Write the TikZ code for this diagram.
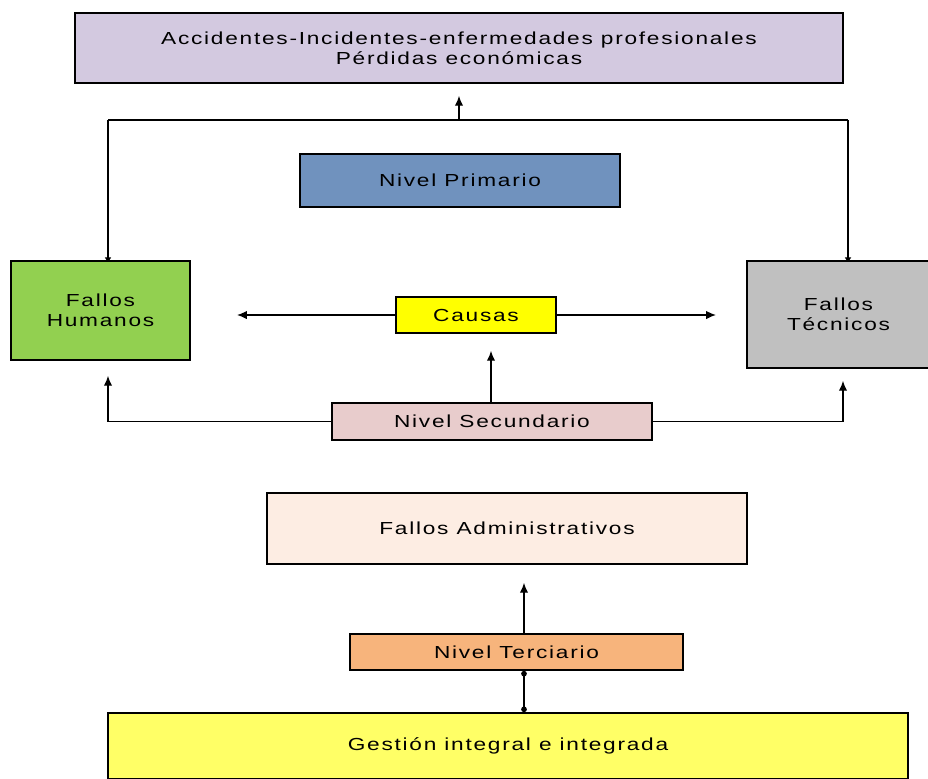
\documentclass[tikz,border=0pt]{standalone}
\usepackage{fontspec}
\newfontfamily\boxfont[FakeStretch=1.3,LetterSpace=10]{Liberation Sans}
\usetikzlibrary{calc,arrows.meta,backgrounds}
\definecolor{lila}{RGB}{211,201,224}
\definecolor{azul}{RGB}{112,146,190}
\definecolor{verde}{RGB}{146,208,80}
\definecolor{gris}{RGB}{192,192,192}
\definecolor{amarillo}{RGB}{255,255,0}
\definecolor{rosa}{RGB}{232,204,204}
\definecolor{crema}{RGB}{253,237,227}
\definecolor{naranja}{RGB}{247,180,124}
\definecolor{limon}{RGB}{255,255,102}
\tikzset{
	caja/.style={draw, line width=1.2pt, inner sep=0pt, align=center,
		font=\boxfont\fontsize{12.4}{14.5}\selectfont},
	flecha/.style={line width=1pt, -{Latex[length=7pt,width=6pt]}},
	linea/.style={line width=1pt}
}

\begin{document}
\begin{tikzpicture}[x=0.025cm, y=-0.025cm]
			%%%%% START %%%%%
			
			\useasboundingbox (0, 0) rectangle (928, 778);
			
			\node[caja, fill=lila, minimum width=19.2cm, minimum height=1.75cm] (acc) at (459, 48) {Accidentes-Incidentes-enfermedades profesionales\\Pérdidas económicas};
			\node[caja, fill=azul, minimum width=8cm, minimum height=1.325cm] (prim) at (460, 180.5) {Nivel Primario};
			
			\node[caja, fill=verde, minimum width=4.475cm, minimum height=2.475cm] (hum) at (100.5, 310.5) {Fallos\\Humanos};
			\node[caja, fill=gris, minimum width=4.575cm, minimum height=2.675cm] (tec) at (838.5, 314.5) {Fallos\\Técnicos};
			\node[caja, fill=amarillo, minimum width=4cm, minimum height=0.9cm] (cau) at (476, 315) {Causas};
			\node[caja, fill=rosa, minimum width=8cm, minimum height=0.925cm] (sec) at (492, 421.5) {Nivel Secundario};
			
			\node[caja, fill=crema, minimum width=12cm, minimum height=1.775cm] (adm) at (507, 528.5) {Fallos Administrativos};
			\node[caja, fill=naranja, minimum width=8.325cm, minimum height=0.9cm] (ter) at (516.5, 652) {Nivel Terciario};
			\node[caja, fill=limon, minimum width=20cm, minimum height=1.65cm] (ges) at (508, 746) {Gestión integral e integrada};
			
			\coordinate (jl) at (108, 120);
			\coordinate (jr) at (848, 120);
			\coordinate (cl) at (237, 315);
			\coordinate (cr) at (716, 315);
			\coordinate (sl) at (108, 421.5);
			\coordinate (sr) at (843, 421.5);
			\coordinate (tx) at (524, 600);
			
			% nivel primario
			\draw[linea] (jl) -- (jr);
			\draw[flecha, shorten >=0.3cm] (acc.south |- jl) -- (acc.south);
			\begin{scope}[on background layer]
				\draw[line width=1pt, -{Latex[length=4pt,width=5pt]}, shorten >=-2pt] (jl) -- (jl |- hum.north);
				\draw[line width=1pt, -{Latex[length=4pt,width=5pt]}, shorten >=-2pt] (jr) -- (jr |- tec.north);
			\end{scope}
			
			% causas
			\draw[flecha] (cau.west) -- (cl);
			\draw[flecha] (cau.east) -- (cr);
			
			% nivel secundario
			\draw[flecha, shorten >=0.425cm] (sec.north -| 491, 0) -- (cau.south -| 491, 0);
			\draw[flecha, shorten >=0.375cm] (sec.west) -- (sl) -- (sl |- hum.south);
			\draw[flecha, shorten >=0.3cm] (sec.east) -- (sr) -- (sr |- tec.south);
			
			% nivel terciario
			\draw[flecha, shorten >=0.45cm] (ter.north -| tx) -- (adm.south -| tx);
			\draw[line width=1pt, {Circle[length=4pt]}-{Circle[length=4pt]}] (ges.north -| tx) -- (ter.south -| tx);
			
			%%%%% END %%%%%
		\end{tikzpicture}
\end{document}
